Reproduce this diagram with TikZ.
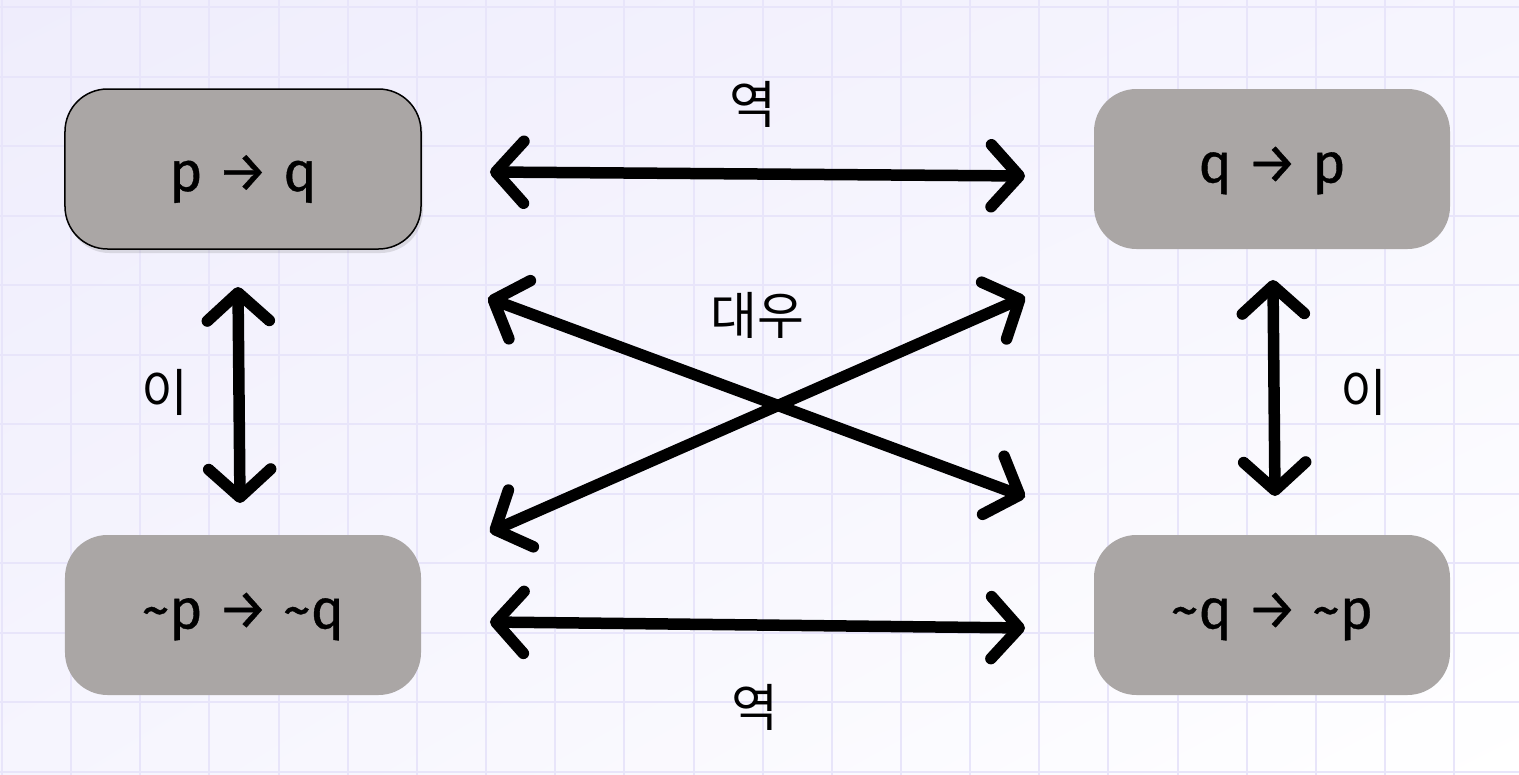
\documentclass[tikz,border=0pt]{standalone}
\usepackage{fontspec}
\setmainfont{Liberation Sans}
\newfontfamily\kr{Noto Sans CJK KR}
\newfontfamily\stmt{Fira Sans}[FakeBold=0.6]
\usetikzlibrary{arrows.meta,shadows,shadings}

\definecolor{boxgray}{HTML}{AAA6A5}
\definecolor{gridlav}{HTML}{E8E5FA}
\definecolor{bglav}{HTML}{EFEDFC}
\definecolor{bgmid}{HTML}{F6F5FE}

\begin{document}
\begin{tikzpicture}[
		x=2cm, y=-2cm,
		box/.style={rectangle, rounded corners=0.85cm, fill=boxgray, minimum width=7.12cm, minimum height=3.2cm, inner sep=0pt, font=\stmt\fontsize{32}{38}\selectfont, text height=0.78cm, text depth=0.24cm},
		tag/.style={font=\kr\fontsize{29}{34}\selectfont, inner sep=0pt},
		link/.style={line width=0.23cm, line cap=round, {Straight Barb[length=0.56cm, width=1.24cm, line join=round, line cap=round]}-{Straight Barb[length=0.56cm, width=1.24cm, line join=round, line cap=round]}},
		gridline/.style={draw=gridlav, line width=0.04cm},
	]

	% --- Background and grid ---
	\shade[upper left=bglav, upper right=bgmid, lower left=bgmid, lower right=white] (0,0) rectangle (15.19,7.75);
	\useasboundingbox (0,0) rectangle (15.19,7.75);
	\foreach \i in {0,...,21} \draw[gridline] ({0.02+0.6915*\i},0) -- ({0.02+0.6915*\i},7.75);
	\foreach \j in {0,...,11} \draw[gridline] (0,{0.07+0.695*\j}) -- (15.19,{0.07+0.695*\j});

	% --- Statements ---
	\node[box, draw=black, line width=0.03cm, text height=1.12cm, drop shadow={shadow xshift=0.04cm, shadow yshift=-0.08cm, opacity=0.22}] (pq) at (2.43,1.69) {p → q};
	\node[box] (qp) at (12.72,1.69) {q → p};
	\node[box] (npnq) at (2.43,6.15) {\char`~p → \char`~q};
	\node[box] (nqnp) at (12.72,6.15) {\char`~q → \char`~p};

	% Arrow end points
	\coordinate (top l) at (4.90,1.72); \coordinate (top r) at (10.25,1.76);
	\coordinate (bot l) at (4.90,6.22); \coordinate (bot r) at (10.25,6.28);
	\coordinate (left t) at (2.38,2.87); \coordinate (left b) at (2.40,5.03);
	\coordinate (right t) at (12.73,2.80); \coordinate (right b) at (12.75,4.96);
	\coordinate (cross ul) at (4.88,2.98); \coordinate (cross lr) at (10.25,4.97);
	\coordinate (cross ur) at (10.25,2.97); \coordinate (cross ll) at (4.90,5.32);

	% --- Relations ---
	\draw[link] (top l) -- (top r);
	\draw[link] (bot l) -- (bot r);
	\draw[link] (left t) -- (left b);
	\draw[link] (right t) -- (right b);
	\draw[link] (cross ul) -- (cross lr);
	\draw[link] (cross ur) -- (cross ll);

	% Labels
	\node[tag] (conv top) at (7.53,1.04) {역};
	\node[tag] (contra) at (7.57,3.15) {대우};
	\node[tag] (inv left) at (1.65,3.92) {이};
	\node[tag] (inv right) at (13.64,3.92) {이};
	\node[tag] (conv bot) at (7.55,7.07) {역};

\end{tikzpicture}
\end{document}
